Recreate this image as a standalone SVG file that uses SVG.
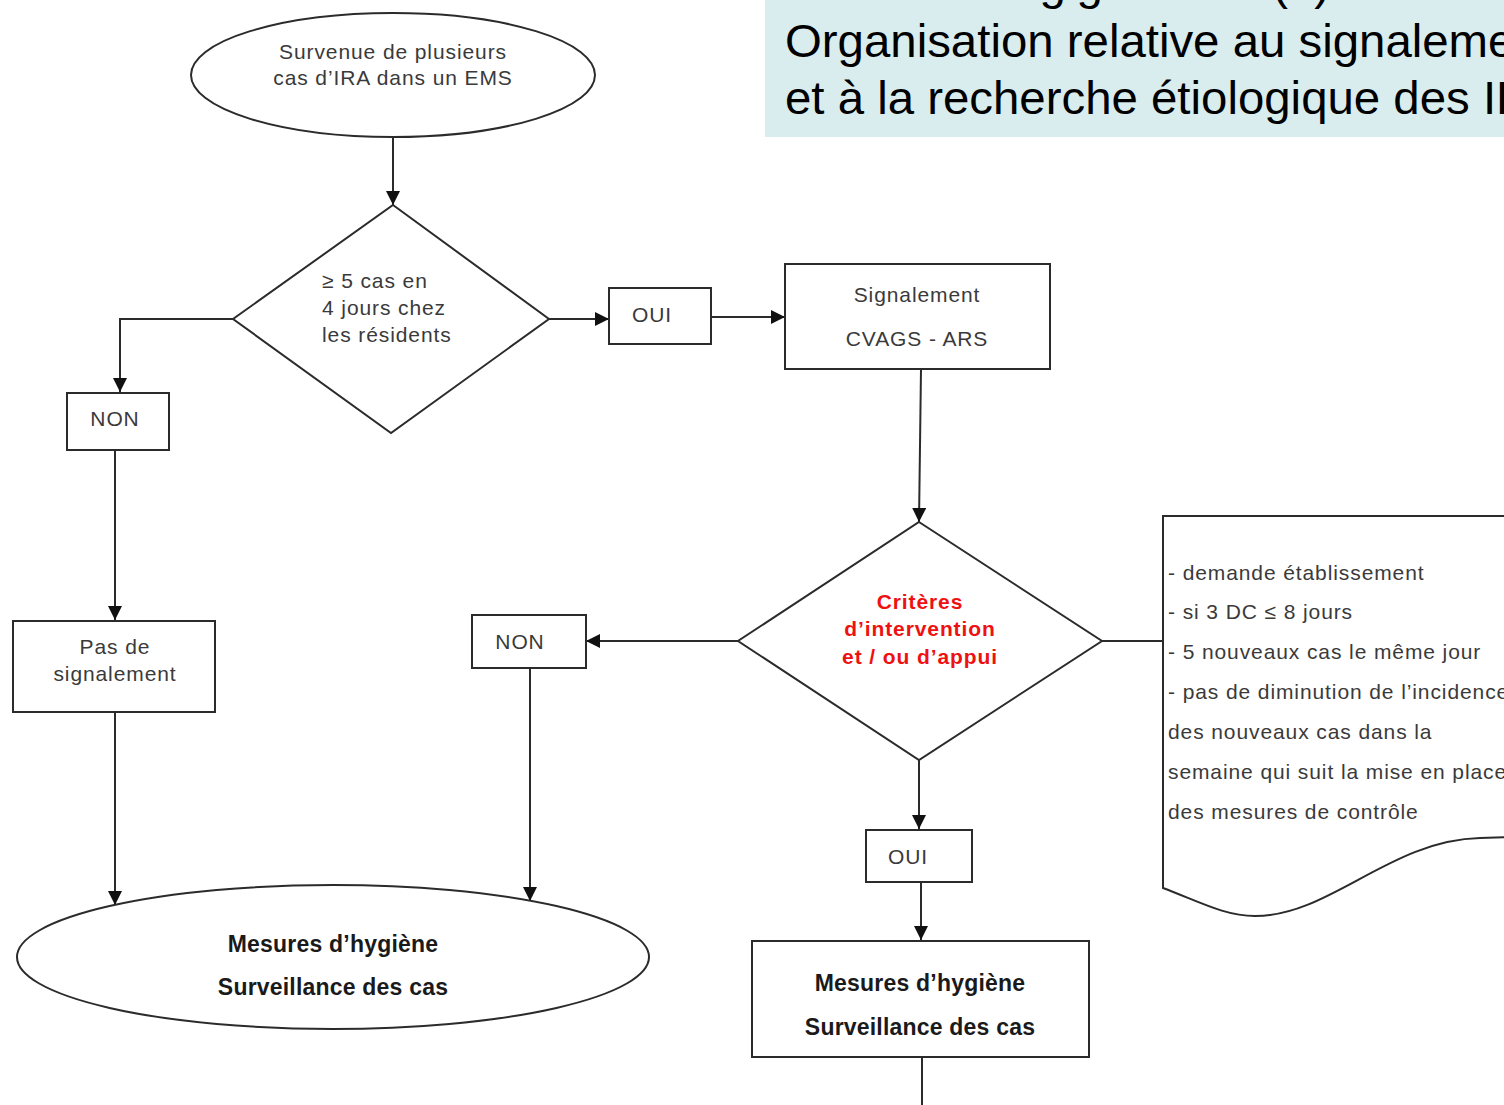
<svg xmlns="http://www.w3.org/2000/svg" width="1504" height="1105" viewBox="0 0 1504 1105">
<defs>
<style>
.ln{fill:none;stroke:#2b2b2b;stroke-width:2}
.sh{fill:#fff;stroke:#2b2b2b;stroke-width:2}
.t{font-family:"Liberation Sans",Arial,sans-serif;font-size:21px;fill:#3a3a3a;letter-spacing:0.9px}
.c{text-anchor:middle}
.b{font-family:"Liberation Sans",Arial,sans-serif;font-size:23px;font-weight:bold;fill:#1a1a1a;letter-spacing:0.2px;text-anchor:middle}
.r{font-family:"Liberation Sans",Arial,sans-serif;font-size:21px;font-weight:bold;fill:#ee1111;letter-spacing:0.9px;text-anchor:middle}
.ti{font-family:"Liberation Sans",Arial,sans-serif;font-size:46px;fill:#000}
</style>
<marker id="ar" markerUnits="userSpaceOnUse" markerWidth="14" markerHeight="14" refX="14" refY="7" orient="auto">
<path d="M0,0 L14,7 L0,14 z" fill="#111"/>
</marker>
</defs>
<rect width="1504" height="1105" fill="#fff"/>
<g id="title">
<rect x="765" y="0" width="739" height="137" fill="#d9edef"/>
<g transform="translate(785,0) scale(1.03,1)">
<text class="ti" y="-1"><tspan x="196">Logigramme</tspan><tspan x="473">(1)</tspan></text>
<text class="ti" x="0" y="57">Organisation relative au signalement</text>
<text class="ti" x="0" y="114">et à la recherche étiologique des IRA</text>
</g>
</g>
<g id="connectors">
<path class="ln" d="M393,137 V205" marker-end="url(#ar)"/>
<path class="ln" d="M549,319 H609" marker-end="url(#ar)"/>
<path class="ln" d="M711,317 H785" marker-end="url(#ar)"/>
<path class="ln" d="M921,369 L919,522" marker-end="url(#ar)"/>
<path class="ln" d="M233,319 H120 V392" marker-end="url(#ar)"/>
<path class="ln" d="M115,450 V620" marker-end="url(#ar)"/>
<path class="ln" d="M115,712 V905" marker-end="url(#ar)"/>
<path class="ln" d="M738,641 H586" marker-end="url(#ar)"/>
<path class="ln" d="M530,668 V901" marker-end="url(#ar)"/>
<path class="ln" d="M919,760 V829" marker-end="url(#ar)"/>
<path class="ln" d="M921,882 V940" marker-end="url(#ar)"/>
<path class="ln" d="M922,1057 V1105"/>
<path class="ln" d="M1102,641 H1163"/>
</g>
<g id="start">
<ellipse class="sh" cx="393" cy="75" rx="202" ry="62"/>
<text class="t c" x="393" y="59">Survenue de plusieurs</text>
<text class="t c" x="393" y="85">cas d’IRA dans un EMS</text>
</g>
<g id="decision1">
<polygon class="sh" points="393,205 549,319 391,433 233,319"/>
<text class="t" x="322" y="288">≥ 5 cas en</text>
<text class="t" x="322" y="315">4 jours chez</text>
<text class="t" x="322" y="342">les résidents</text>
</g>
<g id="oui1">
<rect class="sh" x="609" y="288" width="102" height="56"/>
<text class="t c" x="652" y="322">OUI</text>
</g>
<g id="signalement">
<rect class="sh" x="785" y="264" width="265" height="105"/>
<text class="t c" x="917" y="302">Signalement</text>
<text class="t c" x="917" y="346">CVAGS - ARS</text>
</g>
<g id="non1">
<rect class="sh" x="67" y="393" width="102" height="57"/>
<text class="t c" x="115" y="426">NON</text>
</g>
<g id="pas-signalement">
<rect class="sh" x="13" y="621" width="202" height="91"/>
<text class="t c" x="115" y="654">Pas de</text>
<text class="t c" x="115" y="681">signalement</text>
</g>
<g id="mesures1">
<ellipse class="sh" cx="333" cy="957" rx="316" ry="72"/>
<text class="b" x="333" y="952">Mesures d’hygiène</text>
<text class="b" x="333" y="995">Surveillance des cas</text>
</g>
<g id="decision2">
<polygon class="sh" points="919,522 1102,641 919,760 738,641"/>
<text class="r" x="920" y="609">Critères</text>
<text class="r" x="920" y="636">d’intervention</text>
<text class="r" x="920" y="664">et / ou d’appui</text>
</g>
<g id="non2">
<rect class="sh" x="472" y="615" width="114" height="53"/>
<text class="t c" x="520" y="649">NON</text>
</g>
<g id="oui2">
<rect class="sh" x="866" y="830" width="106" height="52"/>
<text class="t c" x="908" y="864">OUI</text>
</g>
<g id="mesures2">
<rect class="sh" x="752" y="941" width="337" height="116"/>
<text class="b" x="920" y="991">Mesures d’hygiène</text>
<text class="b" x="920" y="1035">Surveillance des cas</text>
</g>
<g id="criteres-doc">
<path class="sh" d="M1510,516 H1163 V888 C1200,902 1225,916 1255,916 C1330,916 1390,840 1480,838 L1510,837"/>
<text class="t" x="1168" y="580">- demande établissement</text>
<text class="t" x="1168" y="619">- si 3 DC ≤ 8 jours</text>
<text class="t" x="1168" y="659">- 5 nouveaux cas le même jour</text>
<text class="t" x="1168" y="699">- pas de diminution de l’incidence</text>
<text class="t" x="1168" y="739">des nouveaux cas dans la</text>
<text class="t" x="1168" y="779">semaine qui suit la mise en place</text>
<text class="t" x="1168" y="819">des mesures de contrôle</text>
</g>
</svg>
